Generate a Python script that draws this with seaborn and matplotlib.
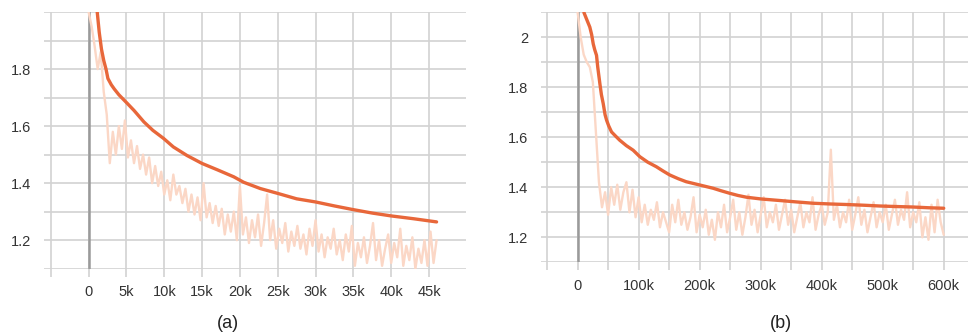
import numpy as np
import pandas as pd
import matplotlib
matplotlib.use("Agg")
import matplotlib.pyplot as plt
import seaborn as sns

# ---- data ----
# (a) smoothed loss curve: step, value
smooth_a_step = [1140, 1400, 1700, 2000, 2300, 2550, 3000, 3400, 4000, 5100,
                 6000, 7300, 8500, 9900, 11200, 13000, 15000, 17000, 19200, 20500,
                 22700, 25000, 27500, 30000, 32500, 35000, 37500, 40000, 43000, 46000]
smooth_a_val = [2.00, 1.93, 1.87, 1.83, 1.80, 1.767, 1.745, 1.73, 1.71, 1.68,
                1.655, 1.615, 1.585, 1.557, 1.527, 1.497, 1.469, 1.447, 1.422, 1.403,
                1.381, 1.364, 1.345, 1.334, 1.32, 1.307, 1.295, 1.285, 1.275, 1.264]

# (a) raw loss, one value every 400 steps from 0 to 46k
raw_a_val = [2.00, 1.95, 1.88, 1.80, 1.86, 1.72, 1.64, 1.47, 1.58, 1.50,
             1.60, 1.52, 1.62, 1.49, 1.55, 1.47, 1.53, 1.45, 1.50, 1.43,
             1.49, 1.40, 1.46, 1.39, 1.44, 1.36, 1.41, 1.34, 1.43, 1.36,
             1.39, 1.33, 1.38, 1.30, 1.36, 1.29, 1.35, 1.27, 1.40, 1.28,
             1.33, 1.26, 1.32, 1.25, 1.31, 1.22, 1.29, 1.23, 1.30, 1.20,
             1.39, 1.22, 1.28, 1.19, 1.27, 1.21, 1.29, 1.18, 1.26, 1.36,
             1.20, 1.27, 1.17, 1.24, 1.19, 1.26, 1.16, 1.23, 1.18, 1.25,
             1.17, 1.22, 1.15, 1.24, 1.18, 1.27, 1.16, 1.22, 1.14, 1.21,
             1.17, 1.24, 1.15, 1.20, 1.13, 1.22, 1.16, 1.25, 1.11, 1.19,
             1.14, 1.21, 1.12, 1.18, 1.26, 1.13, 1.20, 1.11, 1.17, 1.22,
             1.12, 1.19, 1.14, 1.24, 1.11, 1.18, 1.13, 1.21, 1.10, 1.17,
             1.12, 1.20, 1.11, 1.23, 1.12, 1.20]
raw_a_last_step = 46000

# (b) smoothed loss curve
smooth_b_step = [10400, 15000, 20000, 23000, 25600, 28000, 31000, 33000, 36500, 39000,
                 42000, 45000, 47500, 51000, 55600, 62000, 69000, 80000, 91000, 102000,
                 115000, 129000, 140000, 151000, 165000, 178000, 200000, 222000, 235000,
                 249000, 263000, 277000, 301000, 331000, 360000, 386000, 415000, 440000,
                 470000, 495000, 520000, 549000, 575000, 600000]
smooth_b_val = [2.098, 2.07, 2.04, 2.01, 1.973, 1.95, 1.927, 1.88, 1.814, 1.77,
                1.734, 1.69, 1.668, 1.645, 1.621, 1.605, 1.588, 1.566, 1.548, 1.522,
                1.50, 1.482, 1.465, 1.449, 1.434, 1.422, 1.409, 1.396, 1.386,
                1.376, 1.367, 1.36, 1.353, 1.347, 1.341, 1.336, 1.333, 1.331,
                1.328, 1.325, 1.323, 1.321, 1.318, 1.316]

# (b) raw loss, one value every 5k steps from 0 to 600k
raw_b_val = [2.10, 2.00, 1.93, 1.90, 1.88, 1.82, 1.62, 1.42, 1.32, 1.38,
             1.29, 1.40, 1.33, 1.41, 1.31, 1.38, 1.42, 1.30, 1.39, 1.28,
             1.36, 1.26, 1.33, 1.25, 1.31, 1.27, 1.34, 1.24, 1.30, 1.26,
             1.22, 1.33, 1.26, 1.35, 1.25, 1.30, 1.23, 1.28, 1.36, 1.22,
             1.29, 1.24, 1.31, 1.21, 1.27, 1.19, 1.30, 1.24, 1.33, 1.22,
             1.28, 1.35, 1.23, 1.30, 1.21, 1.28, 1.37, 1.25, 1.31, 1.22,
             1.29, 1.36, 1.24, 1.30, 1.26, 1.33, 1.23, 1.29, 1.35, 1.25,
             1.31, 1.22, 1.28, 1.34, 1.24, 1.30, 1.26, 1.36, 1.23, 1.29,
             1.33, 1.25, 1.30, 1.55, 1.27, 1.33, 1.24, 1.30, 1.26, 1.35,
             1.23, 1.29, 1.36, 1.25, 1.31, 1.22, 1.28, 1.34, 1.24, 1.30,
             1.26, 1.33, 1.23, 1.29, 1.35, 1.25, 1.31, 1.27, 1.38, 1.24,
             1.30, 1.26, 1.34, 1.20, 1.28, 1.19, 1.33, 1.22, 1.35, 1.26,
             1.21]
raw_b_last_step = 600000

xticks_a = [0, 5000, 10000, 15000, 20000, 25000, 30000, 35000, 40000, 45000]
xlabels_a = ["0", "5k", "10k", "15k", "20k", "25k", "30k", "35k", "40k", "45k"]
yticks_a = [1.2, 1.4, 1.6, 1.8]
ylabels_a = ["1.2", "1.4", "1.6", "1.8"]

xticks_b = [0, 100000, 200000, 300000, 400000, 500000, 600000]
xlabels_b = ["0", "100k", "200k", "300k", "400k", "500k", "600k"]
yticks_b = [1.2, 1.4, 1.6, 1.8, 2.0]
ylabels_b = ["1.2", "1.4", "1.6", "1.8", "2"]

captions = ["(a)", "(b)"]

# ---- style ----
sns.set_theme(style="white")
plt.rcParams["font.family"] = ["Liberation Sans", "DejaVu Sans"]

SMOOTH = "#e8673a"
RAW = "#fbd7c6"
GRID = "#d2d2d2"

fig = plt.figure(figsize=(9.73, 3.35), dpi=100)
ax_a = fig.add_axes([0.0452, 0.198, 0.4338, 0.766])
ax_b = fig.add_axes([0.556, 0.217, 0.439, 0.747])

panels = [
    (ax_a, raw_a_val, raw_a_last_step, smooth_a_step, smooth_a_val,
     xticks_a, xlabels_a, yticks_a, ylabels_a, (-5900, 49900), (1.1, 2.0), 5000),
    (ax_b, raw_b_val, raw_b_last_step, smooth_b_step, smooth_b_val,
     xticks_b, xlabels_b, yticks_b, ylabels_b, (-60000, 640000), (1.1, 2.1), 50000),
]

for ax, raw, last, s_step, s_val, xt, xl, yt, yl, xlim, ylim, xgrid in panels:
    raw_df = pd.DataFrame({"step": np.linspace(0, last, len(raw)), "loss": raw})
    sm_df = pd.DataFrame({"step": s_step, "loss": s_val})

    ax.axvline(0, color="#9a9a9a", lw=1.8, zorder=1)
    sns.lineplot(data=raw_df, x="step", y="loss", ax=ax, color=RAW, lw=1.7, zorder=2)
    sns.lineplot(data=sm_df, x="step", y="loss", ax=ax, color=SMOOTH, lw=2.4, zorder=3)

    ax.set_xlim(*xlim)
    ax.set_ylim(*ylim)
    ax.set_xticks(np.arange(xt[0] - xgrid, xlim[1], xgrid), minor=True)
    ax.set_xticks(xt)
    ax.set_xticklabels(xl)
    ax.set_yticks(np.arange(1.1, ylim[1] + 0.01, 0.1), minor=True)
    ax.set_yticks(yt)
    ax.set_yticklabels(yl)

    ax.grid(which="both", color=GRID, lw=1.2, zorder=0)
    ax.set_axisbelow(True)
    for sp in ax.spines.values():
        sp.set_visible(False)
    ax.tick_params(axis="x", which="both", length=6, width=1.2, color=GRID,
                   pad=6, labelsize=10.5, labelcolor="#333333", bottom=True)
    ax.tick_params(axis="y", which="both", length=0, pad=9,
                   labelsize=10.5, labelcolor="#333333")
    ax.set_xlabel("")
    ax.set_ylabel("")

fig.text(0.234, 0.035, captions[0], ha="center", va="center", fontsize=13, color="#222222")
fig.text(0.803, 0.035, captions[1], ha="center", va="center", fontsize=13, color="#222222")

fig.savefig("out.png", dpi=100)
